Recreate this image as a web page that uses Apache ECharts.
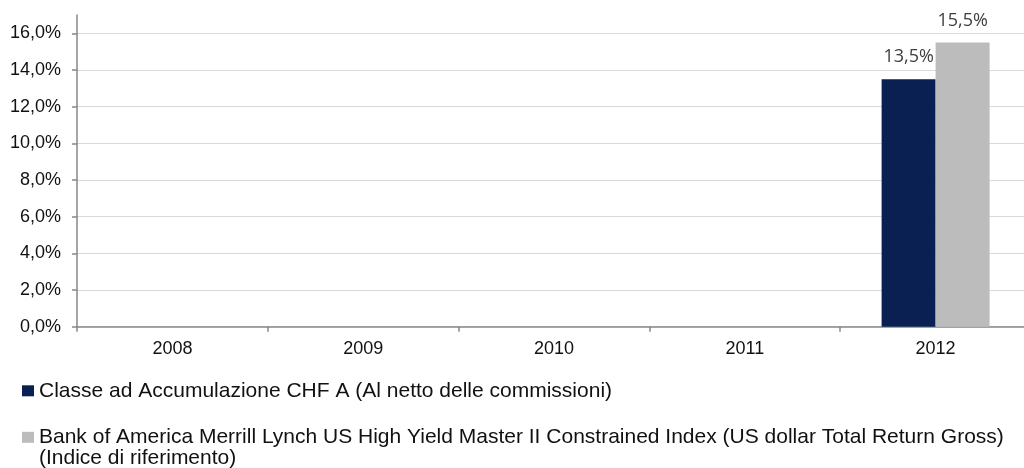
<!DOCTYPE html>
<html>
<head>
<meta charset="utf-8">
<script src="https://cdn.jsdelivr.net/npm/echarts@6/dist/echarts.min.js"></script>
<style>html,body{margin:0;padding:0;background:#fff}#c{width:1024px;height:468px}</style>
</head>
<body>
<div id="c"></div>
<script>
var categories = ['2008', '2009', '2010', '2011', '2012'];
var seriesNames = ['Classe ad Accumulazione CHF A (Al netto delle commissioni)',
  'Bank of America Merrill Lynch US High Yield Master II Constrained Index (US dollar Total Return Gross)\n(Indice di riferimento)'];
var fundValues = [null, null, null, null, 13.5];
var indexValues = [null, null, null, null, 15.5];
var yTickMin = 0, yTickMax = 16, yTickStep = 2, yAxisTop = 17;

var fmt = function (v) { return v.toFixed(1).replace('.', ',') + '%'; };
var axisColor = '#888888';
var chart = echarts.init(document.getElementById('c'));
var labelStyle = {
  show: true, position: 'top', distance: 13,
  fontFamily: 'Open Sans', fontSize: 18, color: '#404040',
  formatter: function (p) { return p.value == null ? '' : fmt(p.value); }
};
chart.setOption({
  animation: false,
  grid: [
    { left: 77, width: 954, top: 33.35, height: 293.35, containLabel: false, outerBoundsMode: 'none' },
    { left: 77, width: 954, top: 15, height: 311.7, containLabel: false, outerBoundsMode: 'none' }
  ],
  xAxis: [
    { gridIndex: 0, type: 'category', data: categories, show: false },
    { gridIndex: 1, type: 'category', data: categories,
      axisLine: { lineStyle: { color: axisColor, width: 1.5 } },
      axisTick: { show: true, length: 5, inside: false, lineStyle: { color: axisColor, width: 1.5 } },
      axisLabel: { fontFamily: 'Liberation Sans', fontSize: 18, color: '#111', margin: 13 } }
  ],
  yAxis: [
    { gridIndex: 0, type: 'value', min: yTickMin, max: yTickMax, interval: yTickStep,
      axisLine: { show: false },
      axisTick: { show: true, length: 5, lineStyle: { color: axisColor, width: 1.5 } },
      splitLine: { show: true, lineStyle: { color: '#d9d9d9', width: 1 } },
      axisLabel: { fontFamily: 'Liberation Sans', fontSize: 18, color: '#111', margin: 16,
        formatter: function (v) { return fmt(v); } } },
    { gridIndex: 1, type: 'value', min: yTickMin, max: yAxisTop,
      axisLine: { show: true, lineStyle: { color: axisColor, width: 1.5 } },
      axisTick: { show: false }, axisLabel: { show: false }, splitLine: { show: false } }
  ],
  legend: [
    { data: [seriesNames[0]], left: 22, top: 380.3, padding: 0, orient: 'vertical',
      icon: 'rect', itemWidth: 12, itemHeight: 11,
      textStyle: { fontFamily: 'Liberation Sans', fontSize: 21, lineHeight: 21, color: '#111' } },
    { data: [seriesNames[1]], left: 22, top: 405.8, padding: 0, orient: 'vertical',
      icon: 'rect', itemWidth: 12, itemHeight: 11,
      formatter: function (n) { return '\n' + n; },
      textStyle: { fontFamily: 'Liberation Sans', fontSize: 21, lineHeight: 21, color: '#111' } }
  ],
  series: [
    { name: seriesNames[0], type: 'bar', xAxisIndex: 1, yAxisIndex: 1, data: fundValues,
      barGap: '0%', barCategoryGap: '43.4%', itemStyle: { color: '#0a1f52' }, label: labelStyle },
    { name: seriesNames[1], type: 'bar', xAxisIndex: 1, yAxisIndex: 1, data: indexValues,
      barGap: '0%', barCategoryGap: '43.4%', itemStyle: { color: '#bcbcbc' }, label: labelStyle }
  ]
});
</script>
</body>
</html>
